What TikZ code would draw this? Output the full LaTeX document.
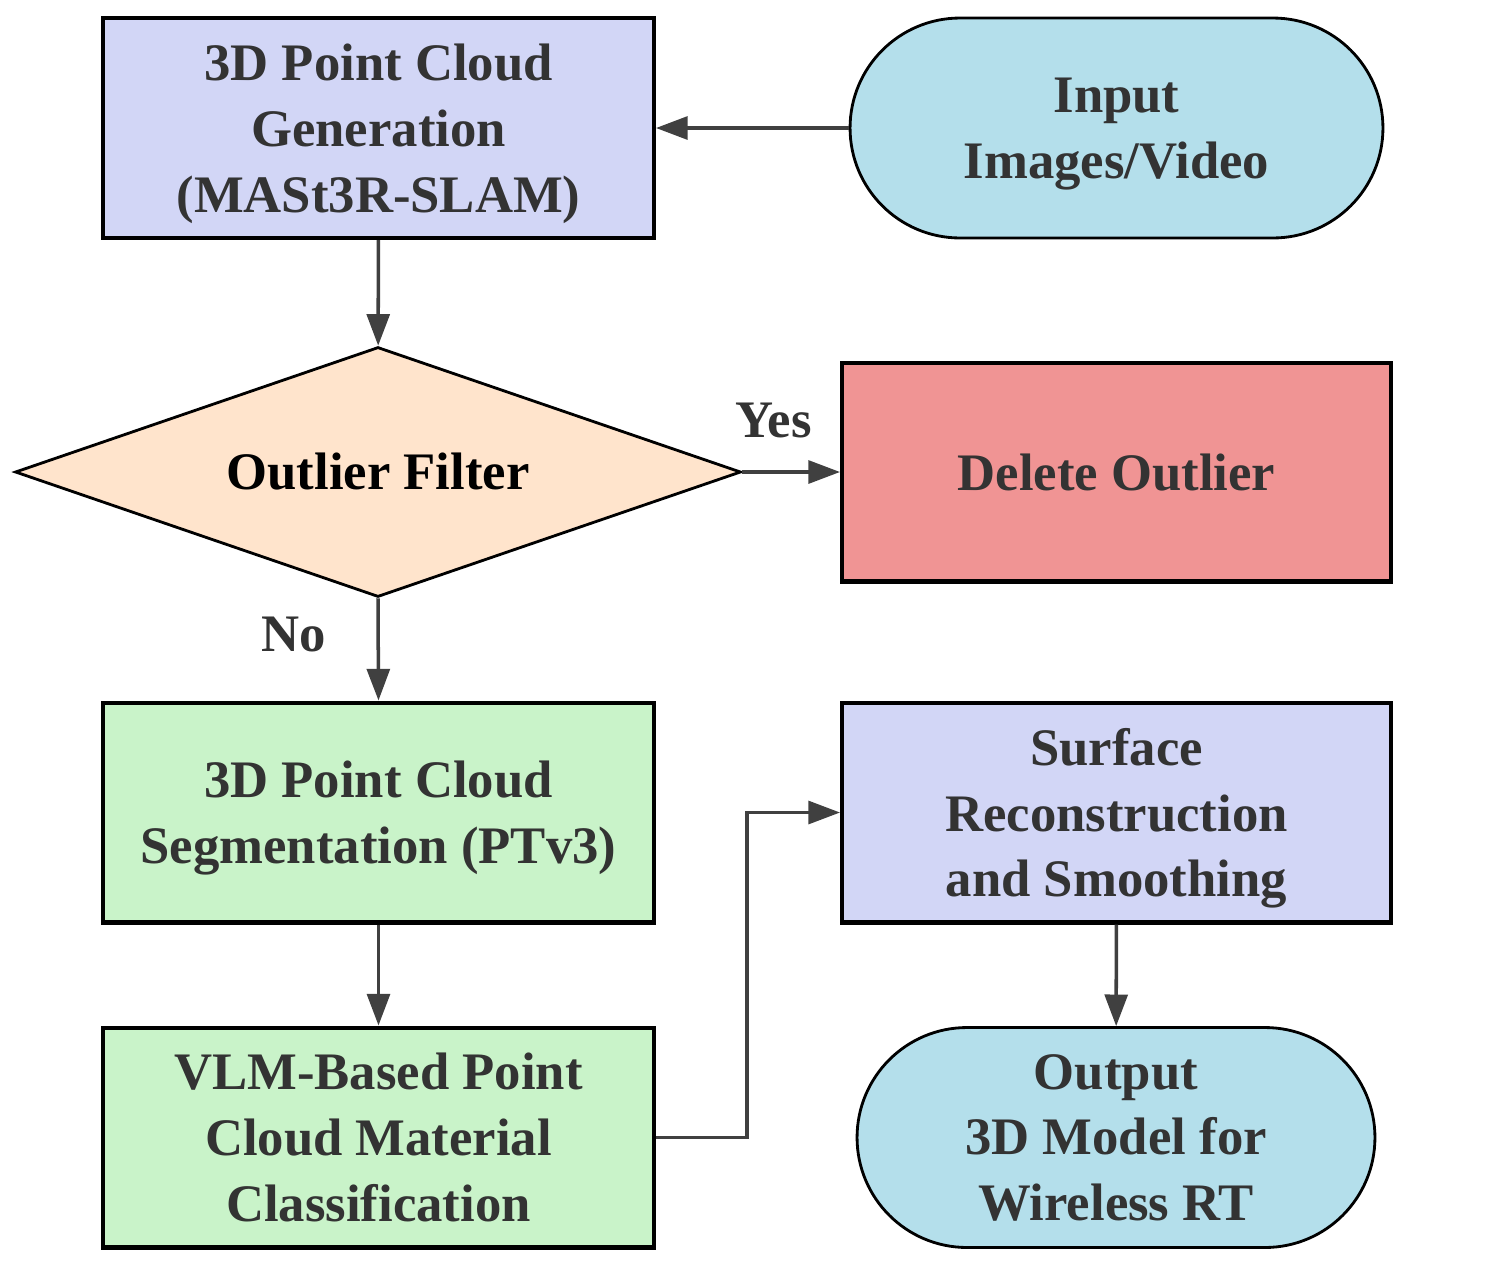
\documentclass[tikz,border=0pt]{standalone}
\usepackage{fontspec}
\setmainfont{Liberation Serif}
\usepackage{xcolor}
\usepackage{tikz}
\usetikzlibrary{arrows.meta}
\usetikzlibrary{positioning, shapes.geometric, shapes.misc}

\definecolor{lavbox}{RGB}{210,214,246}
\definecolor{termblue}{RGB}{180,223,235}
\definecolor{peach}{RGB}{255,228,204}
\definecolor{redbox}{RGB}{240,148,148}
\definecolor{greenbox}{RGB}{201,243,201}
\definecolor{txtgray}{RGB}{51,51,51}
\definecolor{arrgray}{RGB}{64,64,64}

\tikzset{
  procbox/.style={draw=black, line width=2.3pt, rectangle, align=center, text depth=0pt,
    minimum width=11.02cm, minimum height=4.4cm, inner sep=0pt, text=txtgray},
  termbox/.style={draw=black, line width=1.6pt, rectangle, rounded corners=2.2cm, text depth=0pt,
    align=center, minimum height=4.4cm, inner sep=0pt, text=txtgray},
  decbox/.style={draw=black, line width=1.6pt, diamond, aspect=2.9, inner sep=0pt,
    minimum width=14.52cm, minimum height=5cm, fill=peach},
  flow/.style={draw=arrgray, line width=2pt, -{Triangle[length=18pt,width=13pt]}}
}

\begin{document}
\begin{tikzpicture}[x=0.02cm, y=-0.02cm]
\fontsize{30}{37.5}\selectfont\bfseries
\useasboundingbox (0,0) rectangle (1511,1262);

\begin{scope}
    \node[procbox, fill=lavbox] (gen) at (378.5,128) {3D Point Cloud\\Generation\\(MASt3R-SLAM)};
    \node[termbox, fill=termblue, minimum width=10.66cm] (input) at (1116.5,128) {Input\\Images/Video};
    \node[decbox] (filter) at (378,472) {Outlier Filter};
    \node[procbox, fill=redbox, minimum width=10.98cm, minimum height=4.38cm] (del) at (1116.5,472) {Delete Outlier};
    \node[procbox, fill=greenbox] (seg) at (378.5,812.5) {3D Point Cloud\\Segmentation (PTv3)};
    \node[procbox, fill=lavbox, minimum width=10.98cm] (surf) at (1116.5,812.5) {Surface\\Reconstruction\\and Smoothing};
    \node[procbox, fill=greenbox] (vlm) at (378.5,1137.5) {VLM-Based Point\\Cloud Material\\Classification};
    \node[termbox, fill=termblue, minimum width=10.36cm] (out) at (1116,1137.5) {Output\\3D Model for\\Wireless RT};
\end{scope}

\begin{scope}[every edge/.style={flow}, every node/.style={text=txtgray}]
    \path (input) edge (gen);
    \path (gen) edge (filter);
    \path (filter.east) edge node [above=8.5pt, pos=0.32] {Yes} (del.west);
    \path (filter.south) edge node [left=19pt, pos=0.35] {No} (seg.north);
    \path (seg) edge (vlm);
    \path (surf) edge (out);
\end{scope}

\coordinate (bend) at (747,1137.5);
\draw [flow] (vlm.east) -- (bend) |- (surf.west);

\end{tikzpicture}
\end{document}
